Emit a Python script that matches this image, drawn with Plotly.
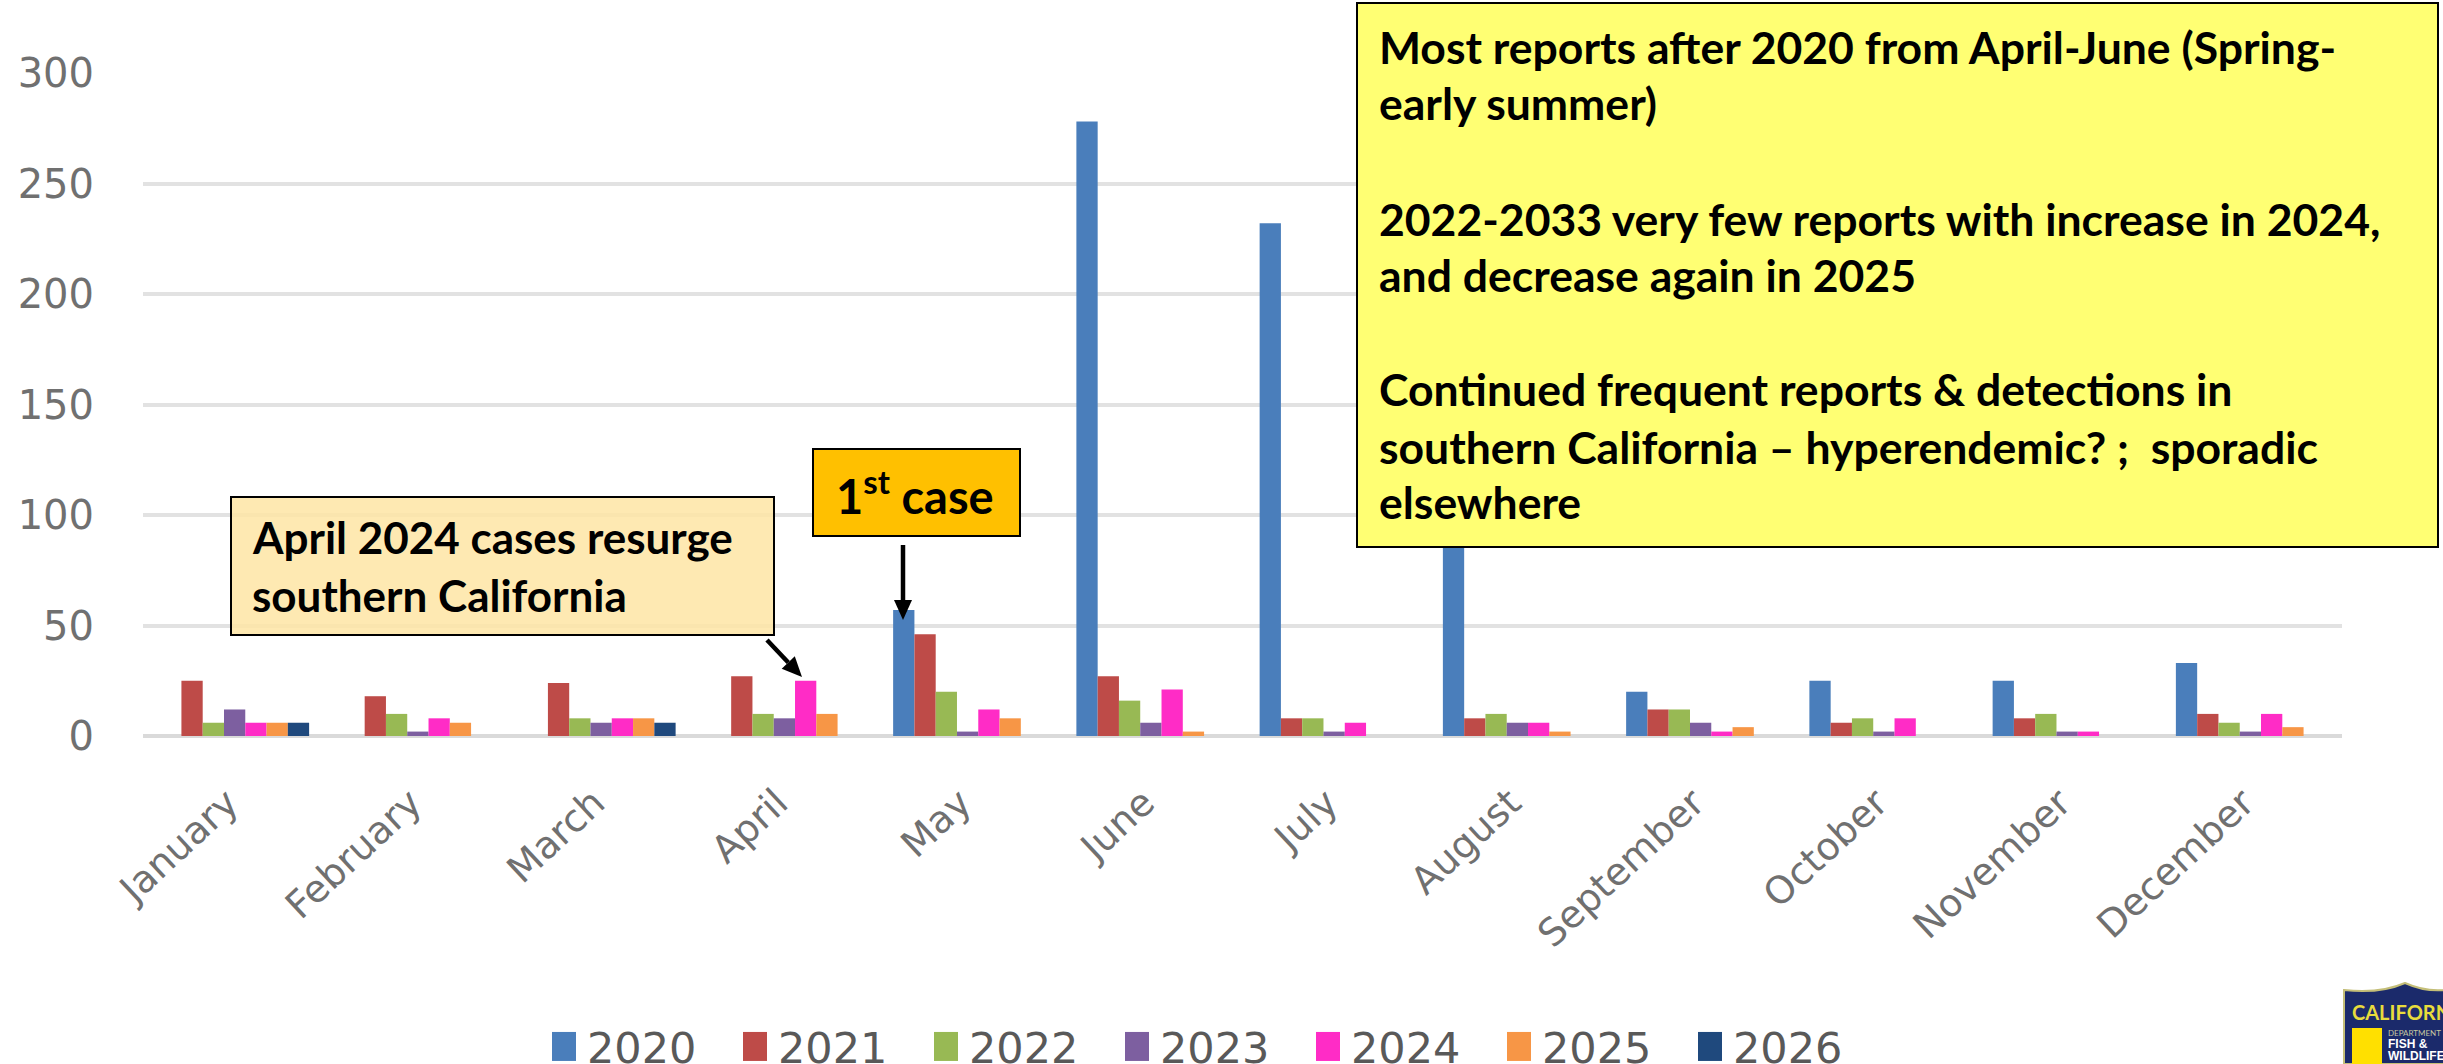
import math
import plotly.graph_objects as go

W, H = 2443, 1064
L, R, T, B = 143, 2342, 73, 736

months = ["January","February","March","April","May","June","July","August","September","October","November","December"]
y2020 = [0,0,0,0,57,278,232,100,20,25,25,33]
y2021 = [25,18,24,27,46,27,8,8,12,6,8,10]
y2022 = [6,10,8,10,20,16,8,10,12,8,10,6]
y2023 = [12,2,6,8,2,6,2,6,6,2,2,2]
y2024 = [6,8,8,25,12,21,6,6,2,8,2,10]
y2025 = [6,6,8,10,8,2,0,2,4,0,0,4]
y2026 = [6,0,6,0,0,0,0,0,0,0,0,0]
series = {"2020":y2020,"2021":y2021,"2022":y2022,"2023":y2023,"2024":y2024,"2025":y2025,"2026":y2026}
colors = ["#4A7EBB","#BE4B48","#98B954","#7D5FA0","#FF2CC6","#F79646","#1F497D"]
y_ticks = [0,50,100,150,200,250,300]

def px(x): return (x-L)/(R-L)
def py(y): return (B-y)/(B-T)

fig = go.Figure()
for (name, vals), c in zip(series.items(), colors):
    fig.add_bar(name=name, x=months, y=vals, marker=dict(color=c, line=dict(width=0)))

def box(x0,y0,x1,y1,fill):
    return dict(type="rect",xref="paper",yref="paper",x0=px(x0),x1=px(x1),y0=py(y0),y1=py(y1),
                fillcolor=fill,line=dict(color="black",width=2),layer="above")

def arrow_shapes(x0,y0,x1,y1,head=20,half=9,width=4.5):
    d = math.hypot(x1-x0,y1-y0); ux,uy = (x1-x0)/d,(y1-y0)/d
    bx,by = x1-ux*head, y1-uy*head
    return [
        dict(type="line",xref="paper",yref="paper",x0=px(x0),y0=py(y0),x1=px(bx),y1=py(by),
             line=dict(color="black",width=width),layer="above"),
        dict(type="path",xref="paper",yref="paper",
             path=f"M{px(x1)},{py(y1)} L{px(bx-uy*half)},{py(by+ux*half)} L{px(bx+uy*half)},{py(by-ux*half)} Z",
             fillcolor="black",line=dict(width=0),layer="above"),
    ]

shapes = [
    box(231,497,774,635,"rgba(254,229,165,0.86)"),
    box(813,449,1020,536,"#FFC000"),
    box(1357,3,2438,547,"#FFFF73"),
    *arrow_shapes(903,545,903,620),
    *arrow_shapes(767,640,802,677),
    dict(type="path",xref="paper",yref="paper",
         path=f"M{px(2344)},{py(1064)} L{px(2344)},{py(990)} Q{px(2380)},{py(994)} {px(2405)},{py(983)} Q{px(2425)},{py(992)} {px(2445)},{py(990)} L{px(2445)},{py(1064)} Z",
         fillcolor="#1B2A6B",line=dict(color="#C4BE78",width=2),layer="above"),
    dict(type="rect",xref="paper",yref="paper",x0=px(2352),x1=px(2382),y0=py(1028),y1=py(1066),
         fillcolor="#FFE000",line=dict(width=0),layer="above"),
]

def label(x,y,text,size=44.5,color="black",font="Lato",bold=True):
    t = f"<b>{text}</b>" if bold else text
    return dict(xref="paper",yref="paper",x=px(x),y=py(y),xanchor="left",yanchor="middle",
                text=t,showarrow=False,align="left",font=dict(family=font,size=size,color=color))

annotations = [
    label(1377,47,"Most reports after 2020 from April-June (Spring-"),
    label(1377,103,"early summer)"),
    label(1377,218,"2022-2033 very few reports with increase in 2024,"),
    label(1377,274,"and decrease again in 2025"),
    label(1377,388,"Continued frequent reports &amp; detections in"),
    label(1377,446,"southern California – hyperendemic? ;  sporadic"),
    label(1377,502,"elsewhere"),
    label(250,537,"April 2024 cases resurge",size=44),
    label(250,595,"southern California",size=44),
    label(834,493,"1<sup>st</sup> case",size=47),
    label(2350,1012,"CALIFORNIA",size=20,color="#E8DC3C",font="Lato"),
    label(2386,1033,"DEPARTMENT",size=8,color="#C8C8A0",font="Lato",bold=False),
    label(2386,1044,"FISH &amp;",size=12,color="#FFFFFF",font="Liberation Sans"),
    label(2386,1056,"WILDLIFE",size=12,color="#FFFFFF",font="Liberation Sans"),
]

fig.update_layout(
    width=W,height=H,autosize=False,
    margin=dict(l=L,r=W-R,t=T,b=H-B,autoexpand=False),
    paper_bgcolor="white",plot_bgcolor="white",
    barmode="group",bargap=0.187,bargroupgap=0,
    font=dict(family="DejaVu Sans",color="#595959"),
    shapes=shapes,annotations=annotations,
    legend=dict(orientation="h",x=px(547),xanchor="left",y=py(1046),yanchor="middle",
                font=dict(size=43,color="#595959"),entrywidth=146,entrywidthmode="pixels",
                bgcolor="rgba(0,0,0,0)",traceorder="normal"),
    xaxis=dict(tickangle=-43,tickfont=dict(size=38,color="#707070"),showgrid=False,showline=False,
               ticks="",ticklabelstandoff=36,ticklabelshift=-7),
    yaxis=dict(range=[0,300],tickvals=y_ticks,tickfont=dict(size=40,color="#707070"),
               gridcolor="#E2E2E2",gridwidth=4,zeroline=True,zerolinecolor="#DADADA",zerolinewidth=4,
               showline=False,ticks="",ticklabelstandoff=48),
)

post = """
document.body.style.margin='0';
document.querySelectorAll('.legendpoints path').forEach(function(p){
  p.setAttribute('d','M9,15H-15V-14H9Z');
});
"""
fig.write_html("out.html",post_script=post,config=dict(displayModeBar=False))
